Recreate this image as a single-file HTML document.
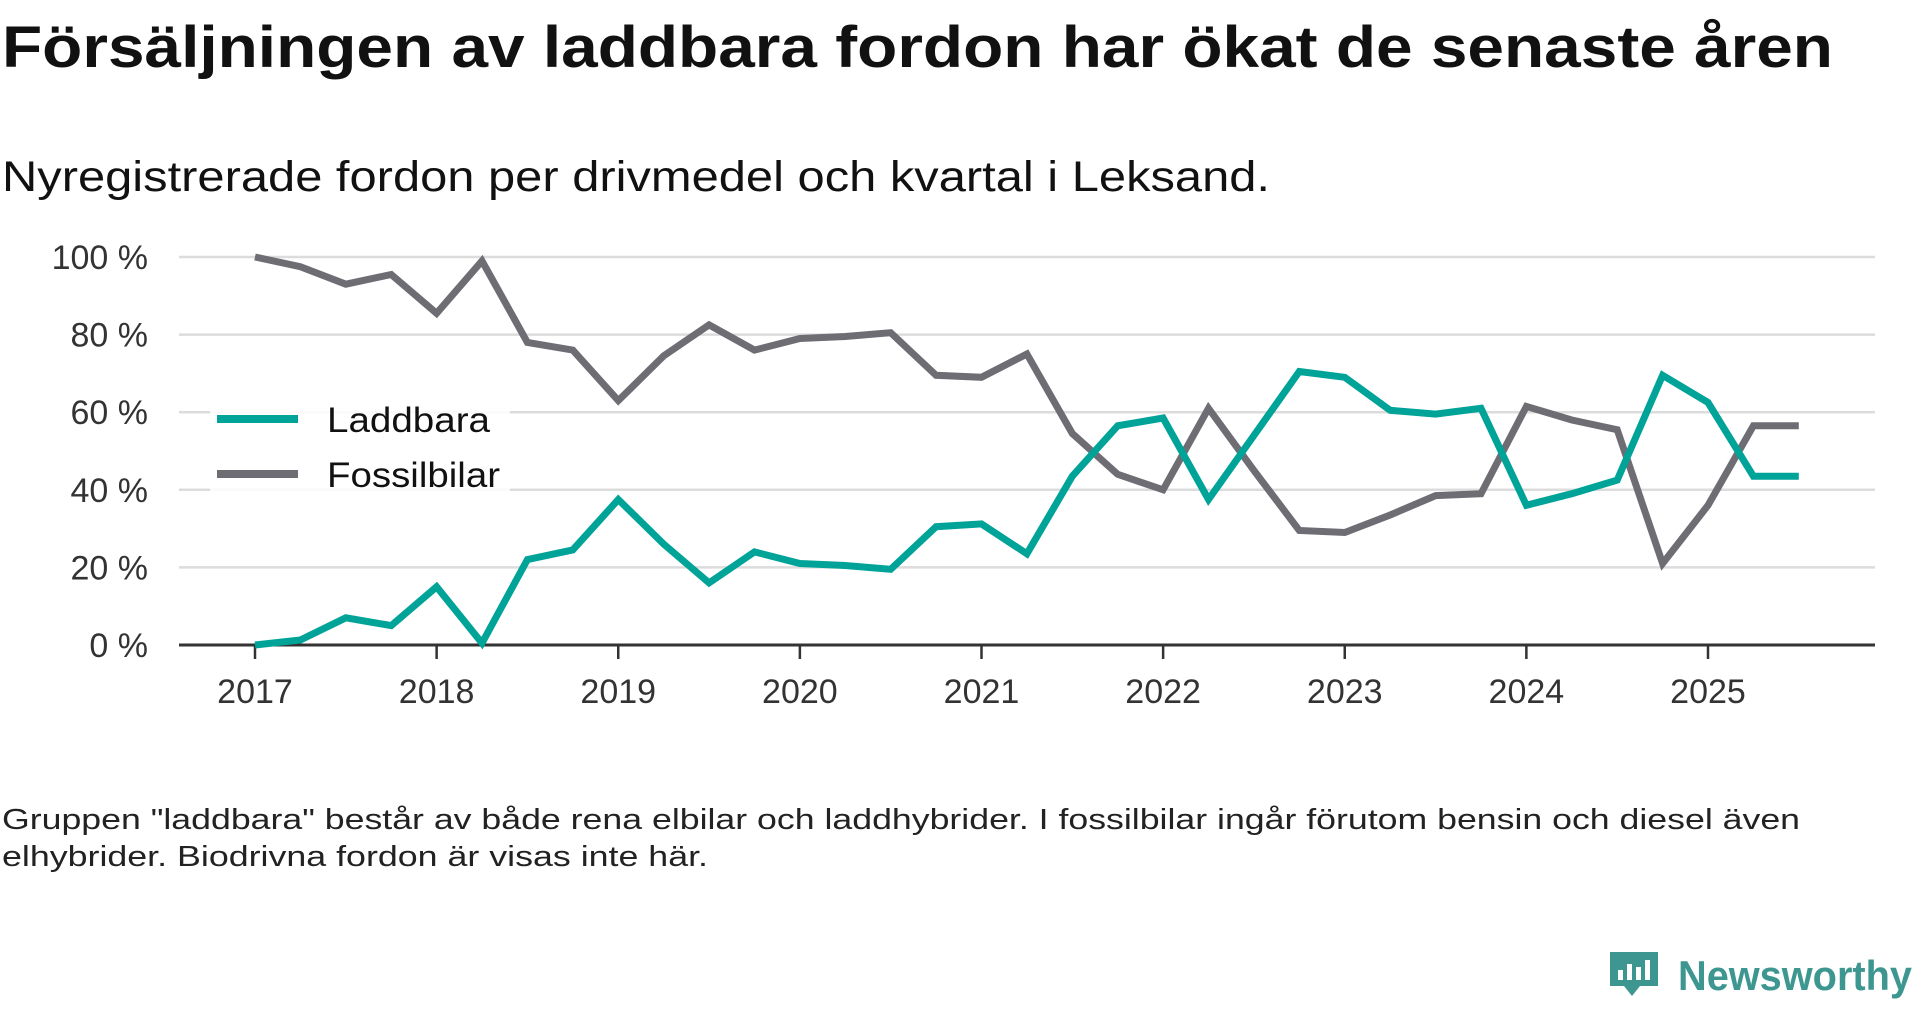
<!DOCTYPE html>
<html><head><meta charset="utf-8"><style>
body{margin:0;background:#fff;width:1920px;height:1010px;overflow:hidden;font-family:"Liberation Sans",sans-serif;color:#111}
</style></head><body>
<svg width="1920" height="1010" style="position:absolute;left:0;top:0">
<text x="2" y="67" font-size="58" font-weight="bold" fill="#111" textLength="1831" lengthAdjust="spacingAndGlyphs">Försäljningen av laddbara fordon har ökat de senaste åren</text>
<text x="2" y="191" font-size="43" fill="#111" textLength="1268" lengthAdjust="spacingAndGlyphs">Nyregistrerade fordon per drivmedel och kvartal i Leksand.</text>
<g id="grid"></g><g id="axes"></g><g id="lines"></g>
<g>
<rect x="210" y="392" width="300" height="110" fill="#fff" opacity="0.85"/>
<line x1="217" y1="419" x2="298" y2="419" stroke="#00a398" stroke-width="8"/>
<text x="327" y="432" font-size="35" fill="#111" textLength="163" lengthAdjust="spacingAndGlyphs">Laddbara</text>
<line x1="217" y1="474" x2="298" y2="474" stroke="#6e6d74" stroke-width="8"/>
<text x="327" y="487" font-size="35" fill="#111" textLength="173" lengthAdjust="spacingAndGlyphs">Fossilbilar</text>
</g>
<text x="2" y="829" font-size="29" fill="#222" textLength="1798" lengthAdjust="spacingAndGlyphs">Gruppen "laddbara" består av både rena elbilar och laddhybrider. I fossilbilar ingår förutom bensin och diesel även</text>
<text x="2" y="866" font-size="29" fill="#222" textLength="706" lengthAdjust="spacingAndGlyphs">elhybrider. Biodrivna fordon är visas inte här.</text>
<g>
<path d="M1610 952 h48 v34 h-18 l-8 10 l-8 -10 h-14 z" fill="#3d9690"/>
<rect x="1618" y="970" width="5" height="10" fill="#fff"/><rect x="1627" y="964" width="5" height="16" fill="#fff"/><rect x="1636" y="967" width="5" height="13" fill="#fff"/><rect x="1645" y="960" width="5" height="20" fill="#fff"/>
<text x="1678" y="990" font-size="42" fill="#3d9690" font-weight="bold" textLength="234" lengthAdjust="spacingAndGlyphs">Newsworthy</text>
</g>
</svg>
<script>
const years=[2017,2018,2019,2020,2021,2022,2023,2024,2025];
const yTicks=[0,20,40,60,80,100];
const laddbara=[0,1.3,7,5,15,0.5,22,24.5,37.5,26,16,24,21,20.5,19.5,30.5,31.2,23.5,43.5,56.5,58.5,37.5,54,70.5,69,60.5,59.5,61,36,39,42.5,69.5,62.5,43.5,43.5];
const fossil=[100,97.5,93,95.5,85.5,99,78,76,63,74.5,82.5,76,79,79.5,80.5,69.5,69,75,54.5,44,40,61,45,29.5,29,33.5,38.5,39,61.5,58,55.5,21,36,56.5,56.5];
const NS="http://www.w3.org/2000/svg";
const L=179,R=1875;
const x=t=>255+(t-2017)*(1708-255)/8;
const y=v=>645-v*(645-257)/100;
function mk(tag,attrs,parent,txt){const e=document.createElementNS(NS,tag);for(const k in attrs)e.setAttribute(k,attrs[k]);if(txt!==undefined)e.textContent=txt;document.getElementById(parent).appendChild(e);return e;}
yTicks.forEach(v=>{
 if(v>0){const g=mk('line',{x1:L,x2:R,y1:y(v),y2:y(v),stroke:'#dcdcdc','stroke-width':2.5},'grid');
 
 }
 const t=mk('text',{x:148,y:y(v)+12,'font-size':34,'text-anchor':'end',fill:'#333'},'axes',v+' %');
 
 
});
const ax=mk('line',{x1:L,x2:R,y1:y(0),y2:y(0),stroke:'#333','stroke-width':3},'axes');


years.forEach(yr=>{
 const tk=mk('line',{x1:x(yr),x2:x(yr),y1:y(0),y2:y(0)+14,stroke:'#333','stroke-width':2.5},'axes');
 
 
 const t=mk('text',{x:x(yr),y:703,'font-size':34,'text-anchor':'middle',fill:'#333'},'axes',yr);
 
 
});
function line(data,color,name){
 const pts=data.map((v,i)=>x(2017+i/4).toFixed(1)+','+y(v).toFixed(1)).join(' ');
 const p=mk('polyline',{points:pts,fill:'none',stroke:color,'stroke-width':7,'stroke-linejoin':'miter'},'lines');
 
 
}
line(fossil,'#6e6d74','fossil-line');
line(laddbara,'#00a398','laddbara-line');
</script>
</body></html>
